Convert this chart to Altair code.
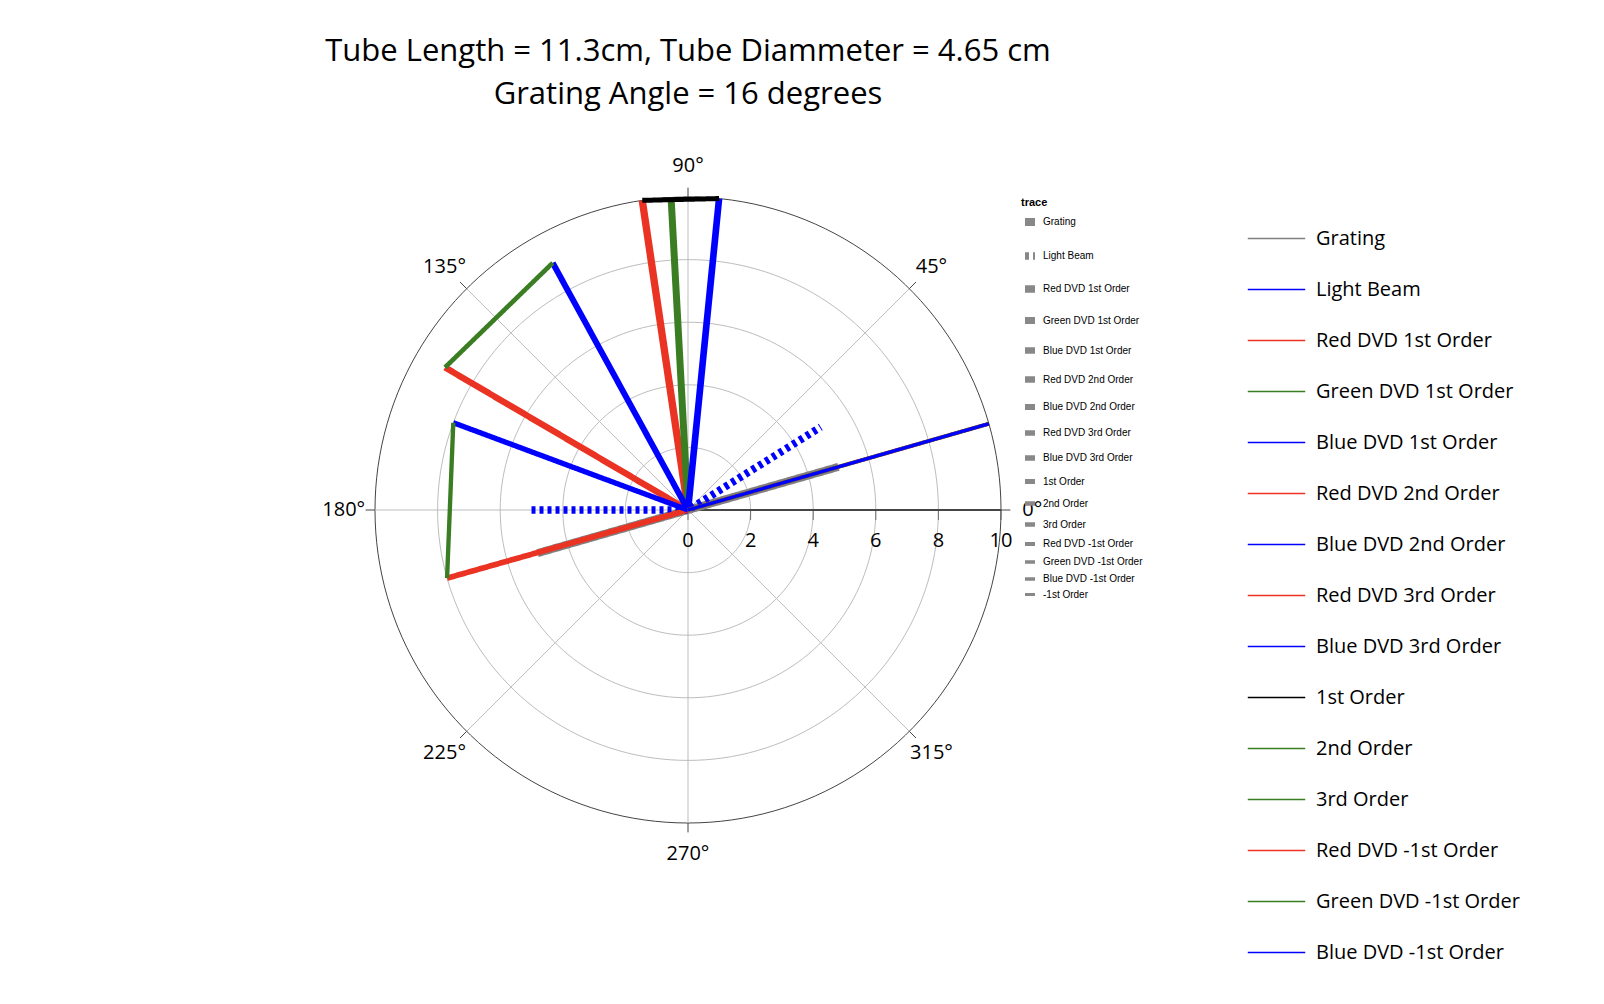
import altair as alt
import numpy as np
import pandas as pd

RED, GREEN, BLUE, BLACK, GREY = "#ea3323", "#3b7d23", "#0000ff", "#000000", "#808080"

# trace name, angles (deg), radii, color, dash, width
traces = [
    ("Grating", [196, 16], [5, 5], GREY, [1, 0], 8),
    ("Light Beam", [180, 0, 32], [5, 0, 5], BLUE, [4, 4], 3),
    ("Red DVD 1st Order", [0, 98.4], [0, 10], RED, [1, 0], 2.5),
    ("Green DVD 1st Order", [0, 93.1], [0, 10], GREEN, [1, 0], 2.5),
    ("Blue DVD 1st Order", [0, 84.3], [0, 10], BLUE, [1, 0], 2.5),
    ("Red DVD 2nd Order", [0, 149.6], [0, 9], RED, [1, 0], 2.5),
    ("Blue DVD 2nd Order", [0, 118.7], [0, 9], BLUE, [1, 0], 2.5),
    ("Red DVD 3rd Order", [0, 195.8], [0, 8], RED, [1, 0], 2.5),
    ("Blue DVD 3rd Order", [0, 159.6], [0, 8], BLUE, [1, 0], 2.5),
    ("1st Order", [84.3, 98.4], [10, 10], BLACK, [1, 0], 2.5),
    ("2nd Order", [118.7, 149.6], [9, 9], GREEN, [1, 0], 2.5),
    ("3rd Order", [159.6, 195.8], [8, 8], GREEN, [1, 0], 2.5),
    ("Red DVD -1st Order", [0, 16], [0, 10], RED, [1, 0], 2.5),
    ("Green DVD -1st Order", [0, 16], [0, 10], GREEN, [1, 0], 2.5),
    ("Blue DVD -1st Order", [0, 16], [0, 10], BLUE, [1, 0], 2.5),
    ("-1st Order", [16, 16], [10, 10], BLACK, [1, 0], 2.5),
]

grid_radii = [2, 4, 6, 8, 10]
spoke_angles = [0, 45, 90, 135, 180, 225, 270, 315]
radial_ticks = [0, 2, 4, 6, 8, 10]

rows = []
for i, (name, angs, rs, *_rest) in enumerate(traces):
    for j, (a, r) in enumerate(zip(angs, rs)):
        rows.append({"trace": name, "ord": j, "theta": a, "r": r})
df = pd.DataFrame(rows)
df["x"] = df.r * np.cos(np.radians(df.theta))
df["y"] = df.r * np.sin(np.radians(df.theta))

circ = pd.DataFrame([{"ring": r, "ord": k, "x": r * np.cos(np.radians(k)), "y": r * np.sin(np.radians(k))}
                     for r in grid_radii for k in range(0, 361, 2)])
spokes = pd.DataFrame({"a": spoke_angles})
spokes["x0"] = 0.0
spokes["y0"] = 0.0
spokes["x"] = 10 * np.cos(np.radians(spokes.a))
spokes["y"] = 10 * np.sin(np.radians(spokes.a))
spokes["xo"] = 10.3 * np.cos(np.radians(spokes.a))
spokes["yo"] = 10.3 * np.sin(np.radians(spokes.a))
spokes["xl"] = 11 * np.cos(np.radians(spokes.a))
spokes["yl"] = 11 * np.sin(np.radians(spokes.a))
spokes["label"] = [f"{a}°" for a in spoke_angles]
rt = pd.DataFrame({"r": radial_ticks, "label": [str(v) for v in radial_ticks], "y": 0.0, "x0": 0.0, "x1": 10.0})

X = alt.Scale(domain=[-10, 10], nice=False, zero=False)
Y = alt.Scale(domain=[-10, 10], nice=False, zero=False)

rings = alt.Chart(circ).mark_line(strokeWidth=1).encode(
    x=alt.X("x:Q", scale=X, axis=None), y=alt.Y("y:Q", scale=Y, axis=None),
    detail="ring:N", order="ord:Q",
    color=alt.condition("datum.ring == 10", alt.value("#444444"), alt.value("#bdbdbd")))
spk = alt.Chart(spokes).mark_rule(color="#bdbdbd").encode(
    x=alt.X("x0:Q", scale=X), y=alt.Y("y0:Q", scale=Y), x2="x:Q", y2="y:Q")
otick = alt.Chart(spokes).mark_rule(color="#444444").encode(
    x=alt.X("x:Q", scale=X), y=alt.Y("y:Q", scale=Y), x2="xo:Q", y2="yo:Q")
alabel = alt.Chart(spokes).mark_text(fontSize=20, font="Open Sans", color="black").encode(
    x=alt.X("xl:Q", scale=X), y=alt.Y("yl:Q", scale=Y), text="label:N")
raxis = alt.Chart(rt).mark_rule(color="#444444").encode(
    x=alt.X("x0:Q", scale=X), x2="x1:Q", y=alt.Y("y:Q", scale=Y))
rtick = alt.Chart(rt).mark_tick(color="#444444", orient="vertical", size=10, yOffset=5).encode(
    x=alt.X("r:Q", scale=X), y=alt.Y("y:Q", scale=Y))
rlab = alt.Chart(rt).mark_text(fontSize=20, font="Open Sans", color="black", dy=31).encode(
    x=alt.X("r:Q", scale=X), y=alt.Y("y:Q", scale=Y), text="label:N")

names = [t[0] for t in traces]
lines = alt.Chart(df).mark_line(strokeCap="butt").encode(
    x=alt.X("x:Q", scale=X), y=alt.Y("y:Q", scale=Y), order="ord:Q",
    color=alt.Color("trace:N", sort=names, scale=alt.Scale(domain=names, range=[t[3] for t in traces]),
                    legend=alt.Legend(title=None, orient="none", legendX=872, legendY=12,
                                      symbolType="stroke", symbolSize=3300, labelFontSize=20,
                                      labelFont="Open Sans", labelLimit=226, rowPadding=11,
                                      labelOffset=10, labelColor="black")),
    strokeDash=alt.StrokeDash("trace:N", sort=names, scale=alt.Scale(domain=names, range=[t[4] for t in traces])),
    strokeWidth=alt.StrokeWidth("trace:N", sort=names, scale=alt.Scale(domain=names, range=[t[5] for t in traces])),
)

chart = alt.layer(rings, spk, otick, raxis, rtick, lines, alabel, rlab).properties(
    width=626, height=626,
    autosize=alt.AutoSizeParams(type="none"),
    padding={"left": 367, "top": 189, "right": 570, "bottom": 160},
    title=alt.Title(["Tube Length = 11.3cm, Tube Diammeter = 4.65 cm", "Grating Angle = 16 degrees"],
                    fontSize=31, font="Open Sans", fontWeight="normal", lineHeight=43, offset=45,
                    anchor="middle", color="black"),
).resolve_scale(color="independent").configure_view(stroke=None)

chart.save("out.html", embed_options={"renderer": "svg", "actions": False})
